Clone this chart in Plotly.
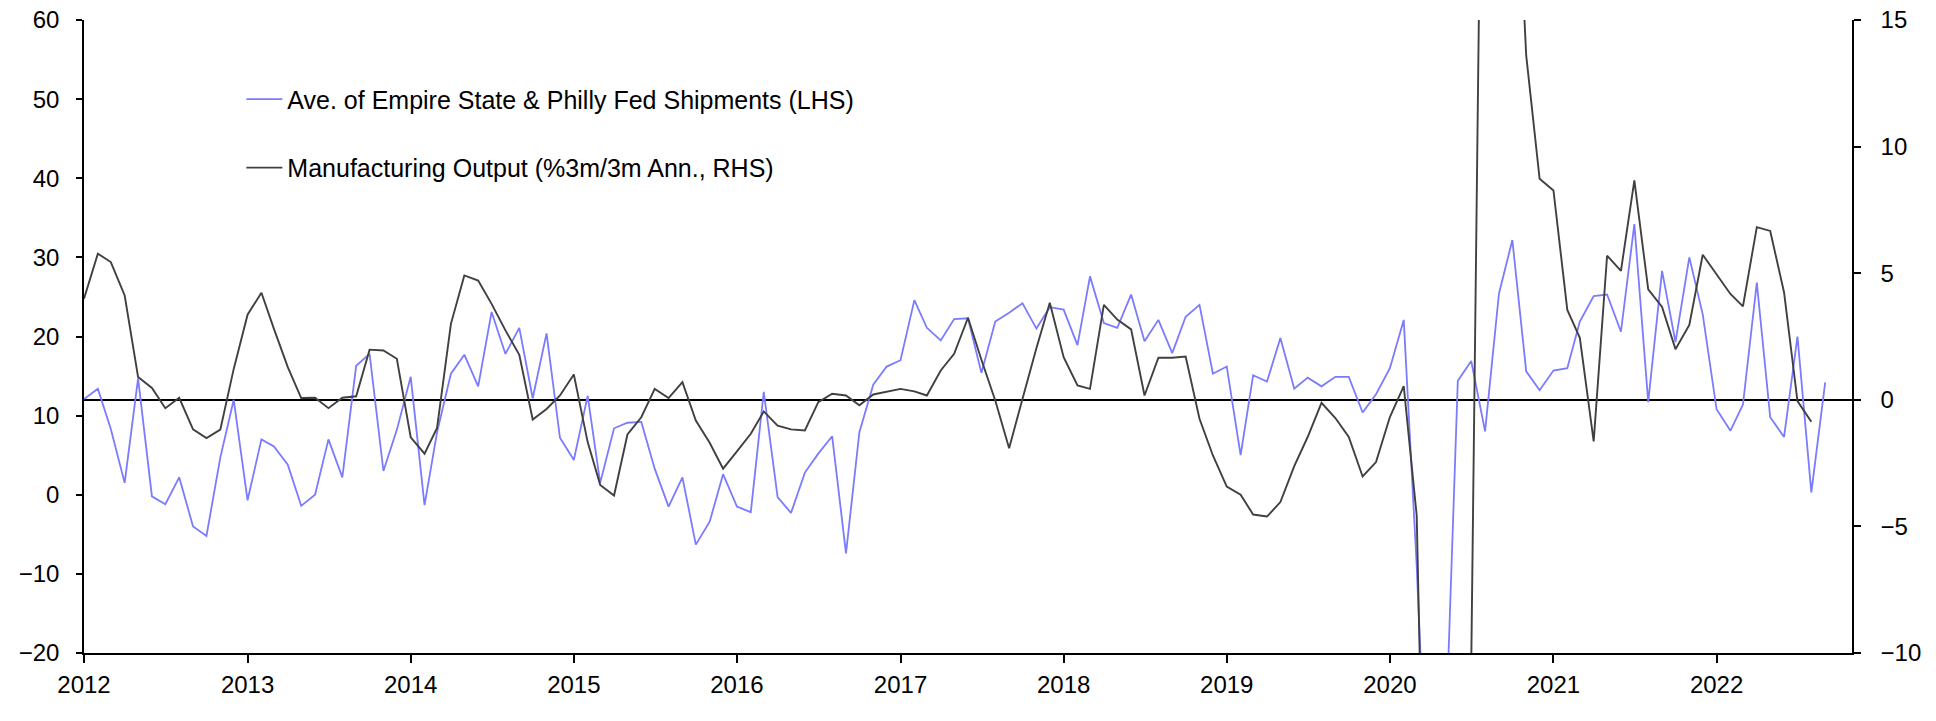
import pandas as pd
import plotly.graph_objects as go

# Monthly data, Jan 2012 onwards
start_month = "2012-01-01"

shipments_lhs = [
    12.1, 13.4, 8.3, 1.5, 14.7, -0.2, -1.2, 2.2, -4.0, -5.2, 4.7, 12.0,      # 2012
    -0.7, 7.0, 6.1, 3.8, -1.4, 0.0, 7.0, 2.2, 16.3, 17.8, 3.0, 8.2,          # 2013
    14.9, -1.3, 7.9, 15.3, 17.7, 13.7, 23.1, 17.8, 21.1, 12.2, 20.4, 7.2,    # 2014
    4.4, 12.5, 1.5, 8.4, 9.1, 9.2, 3.3, -1.5, 2.2, -6.3, -3.4, 2.6,          # 2015
    -1.5, -2.2, 13.0, -0.3, -2.3, 2.8, 5.2, 7.4, -7.4, 7.9, 13.9, 16.2,      # 2016
    17.0, 24.6, 21.1, 19.5, 22.2, 22.3, 15.4, 21.9, 23.0, 24.2, 21.0, 23.7,  # 2017
    23.4, 18.9, 27.6, 21.7, 21.1, 25.3, 19.4, 22.1, 17.9, 22.5, 24.0, 15.3,  # 2018
    16.2, 5.0, 15.1, 14.3, 19.8, 13.4, 14.8, 13.7, 14.9, 14.9, 10.4, 12.7,   # 2019
    16.0, 22.1, -9.0, -50.0, -37.0, 14.4, 16.9, 8.0, 25.4, 32.2, 15.6, 13.2, # 2020
    15.7, 16.0, 21.9, 25.1, 25.3, 20.6, 34.2, 11.7, 28.3, 19.3, 30.0, 22.8,  # 2021
    10.8, 8.1, 11.4, 26.8, 9.8, 7.3, 20.0, 0.3, 14.2,                        # 2022
]

mfg_output_rhs = [
    3.99, 5.77, 5.44, 4.12, 0.90, 0.47, -0.33, 0.08, -1.17, -1.51, -1.18, 1.22,     # 2012
    3.36, 4.23, 2.80, 1.29, 0.07, 0.08, -0.33, 0.08, 0.14, 1.98, 1.95, 1.62,        # 2013
    -1.48, -2.13, -1.11, 3.00, 4.91, 4.71, 3.79, 2.74, 1.78, -0.78, -0.36, 0.17,    # 2014
    1.00, -1.67, -3.36, -3.78, -1.37, -0.69, 0.43, 0.07, 0.70, -0.82, -1.70, -2.72, # 2015
    -2.04, -1.34, -0.46, -1.02, -1.17, -1.21, -0.09, 0.24, 0.17, -0.22, 0.21, 0.33, # 2016
    0.43, 0.33, 0.17, 1.16, 1.82, 3.24, 1.58, -0.03, -1.91, 0.04, 2.04, 3.83,       # 2017
    1.68, 0.57, 0.43, 3.75, 3.17, 2.78, 0.17, 1.66, 1.66, 1.71, -0.75, -2.20,       # 2018
    -3.43, -3.75, -4.53, -4.61, -4.04, -2.62, -1.47, -0.12, -0.72, -1.47, -3.03, -2.46,  # 2019
    -0.68, 0.54, -4.57, -30.0, -43.0, -45.0, -10.5, 36.0, 45.0, 25.0, 13.6, 8.73,   # 2020
    8.27, 3.55, 2.45, -1.64, 5.69, 5.09, 8.67, 4.36, 3.67, 2.00, 2.96, 5.73,        # 2021
    4.95, 4.18, 3.69, 6.82, 6.67, 4.24, -0.05, -0.87,                               # 2022
]

name_lhs = "Ave. of Empire State & Philly Fed Shipments (LHS)"
name_rhs = "Manufacturing Output (%3m/3m Ann., RHS)"

lhs_tickvals = [-20, -10, 0, 10, 20, 30, 40, 50, 60]
rhs_tickvals = [-10, -5, 0, 5, 10, 15]

dates_lhs = pd.date_range(start_month, periods=len(shipments_lhs), freq="MS")
dates_rhs = pd.date_range(start_month, periods=len(mfg_output_rhs), freq="MS")

FONT = "Liberation Sans, Arial, sans-serif"
FS = 24

fig = go.Figure()
fig.add_trace(go.Scatter(
    x=dates_lhs, y=shipments_lhs, name=name_lhs, mode="lines",
    line=dict(color="#7b7bff", width=1.8), legendgroup="a", yaxis="y",
))
fig.add_trace(go.Scatter(
    x=dates_rhs, y=mfg_output_rhs, name=name_rhs, mode="lines",
    line=dict(color="#404040", width=1.9), legendgroup="b", yaxis="y2",
))

fig.update_layout(
    width=1936, height=721,
    margin=dict(l=84, r=84, t=20, b=68, autoexpand=False),
    paper_bgcolor="white", plot_bgcolor="white",
    font=dict(family=FONT, size=FS, color="black"),
    showlegend=True,
    legend=dict(
        x=0.089, y=0.911, xanchor="left", yanchor="top",
        bgcolor="rgba(0,0,0,0)", font=dict(size=25, family=FONT),
        tracegroupgap=33, itemwidth=36,
    ),
    xaxis=dict(
        type="date", range=["2012-01-01", "2022-10-31"],
        dtick="M12", tick0="2012-01-01", tickformat="%Y",
        showgrid=False, zeroline=False, automargin=False,
        showline=True, linecolor="black", linewidth=1.5,
        ticks="outside", ticklen=8, tickwidth=1.5, tickcolor="black",
        ticklabelstandoff=1,
    ),
    yaxis=dict(
        range=[-20, 60], tickvals=lhs_tickvals, automargin=False,
        showgrid=False, zeroline=False,
        showline=True, linecolor="black", linewidth=1.5,
        ticks="outside", ticklen=6, tickwidth=1.5, tickcolor="black",
        ticklabelstandoff=12,
    ),
    yaxis2=dict(
        range=[-10, 15], tickvals=rhs_tickvals, overlaying="y", side="right",
        automargin=False,
        showgrid=False, zeroline=True, zerolinecolor="black", zerolinewidth=1.5,
        showline=True, linecolor="black", linewidth=1.5,
        ticks="outside", ticklen=7, tickwidth=1.5, tickcolor="black",
        ticklabelstandoff=15,
    ),
)

fig.write_html(
    "out.html",
    config={"displayModeBar": False},
    post_script="document.body.style.margin='0px';",
)
